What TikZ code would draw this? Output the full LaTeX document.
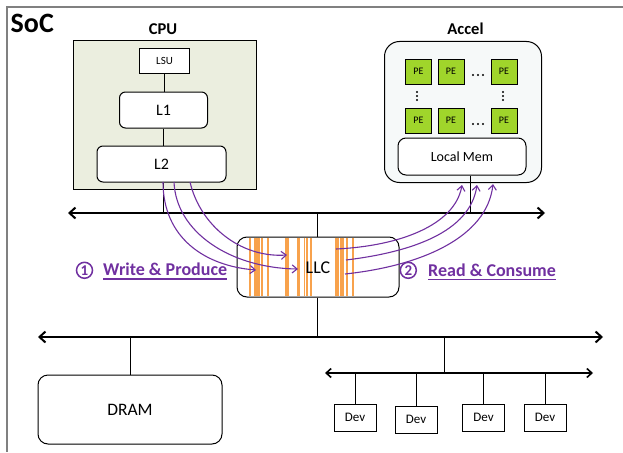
\documentclass[tikz,border=0pt]{standalone}
\usepackage{fontspec}
\setmainfont{Carlito}
\usetikzlibrary{arrows.meta,calc}
\definecolor{cpufill}{HTML}{EBEEDF}
\definecolor{accfill}{HTML}{F6F9F9}
\definecolor{pegreen}{HTML}{A0D52B}
\definecolor{purp}{HTML}{7030A0}
\definecolor{llcorange}{HTML}{F8A24C}
\definecolor{framegray}{HTML}{808080}
\newcommand\fsz[1]{\fontsize{#1}{#1}\selectfont}
\begin{document}
\begin{tikzpicture}[x=1pt,y=-1pt,
  box/.style={draw, line width=1pt, fill=white, inner sep=0pt},
  rbox/.style={box, rounded corners=6pt},
  bus/.style={line width=2pt, {Straight Barb[length=6pt,width=11pt]}-{Straight Barb[length=6pt,width=11pt]}},
  subbus/.style={line width=1.6pt, {Straight Barb[length=5pt,width=9pt]}-{Straight Barb[length=5pt,width=9pt]}},
  wire/.style={line width=1pt},
  flow/.style={draw=purp, line width=1.1pt, -{Straight Barb[length=5pt,width=8pt]}},
  stripe/.style={draw=llcorange, line width=1.6pt},
  pe/.style={draw, line width=0.9pt, fill=pegreen, minimum width=26pt, minimum height=25pt, inner sep=0pt, font=\fsz{10}},
  dev/.style={box, minimum width=42pt, minimum height=27pt, font=\fsz{13}},
  title/.style={font=\bfseries\fsz{16.5}, anchor=base, inner sep=0pt},
  stepnum/.style={circle, draw=purp, line width=1.5pt, text=purp, inner sep=0pt, minimum size=16pt, font=\bfseries\fsz{15}},
  steptext/.style={anchor=base west, inner sep=0pt, text=purp, font=\bfseries\fsz{18}},
  dotmark/.style={fill=black, draw=none}
]
\useasboundingbox (0,0) rectangle (623,452);

% SoC frame
\draw[draw=framegray, line width=1.6pt] (623,7) -- (7,7) -- (7,452);
\node[font=\bfseries\fsz{28}, anchor=base west, inner sep=0pt] (soc) at (10.5,33) {SoC};

% CPU
\node[box, fill=cpufill, minimum width=183pt, minimum height=148pt] (cpu) at (164.5,115) {};
\node[title] (cpulbl) at (163,35) {CPU};
\node[box, minimum width=50pt, minimum height=24pt, font=\fsz{11}] (lsu) at (164.5,61) {LSU};
\node[rbox, minimum width=88pt, minimum height=36pt, font=\fsz{16}] (l1) at (163.5,110) {L1};
\node[rbox, minimum width=129pt, minimum height=36pt, font=\fsz{16}] (l2) at (161.5,164) {L2};
\draw[wire] (lsu.south) -- (lsu.south |- l1.north);
\draw[wire] (l1.south) -- (l1.south |- l2.north);

% Accelerator
\node[box, fill=accfill, rounded corners=15pt, minimum width=157pt, minimum height=141pt] (accel) at (463,112) {};
\node[title] (acclbl) at (465.5,35) {Accel};
\foreach \r/\y in {1/71.5,2/120.5}{
  \node[pe] (pe\r a) at (418.5,\y) {PE};
  \node[pe] (pe\r b) at (451,\y) {PE};
  \node[pe] (pe\r c) at (504,\y) {PE};
}
\foreach \y in {75,124}
  \foreach \x in {473,478,483}
    \fill[dotmark] (\x,\y) circle (1.1pt);
\foreach \x in {417,503}
  \foreach \y in {92,96,100}
    \fill[dotmark] (\x,\y) circle (1.1pt);
\node[rbox, rounded corners=8pt, minimum width=128pt, minimum height=37pt, font=\fsz{14}] (lmem) at (462,156.5) {Local Mem};

% upper bus
\coordinate (busTL) at (68,213);
\coordinate (busTR) at (545,213);
\coordinate (tapC) at (163,213);
\coordinate (tapA) at (470,213);
\coordinate (tapL) at (317,213);
\draw[bus] (busTL) -- (busTR);
\draw[wire] (l2.south -| tapC) -- (tapC);
\draw[wire] (lmem.south -| tapA) -- (tapA);

% LLC
\node[box, rounded corners=10pt, minimum width=162pt, minimum height=60pt] (llc) at (318,267) {};
\draw[wire] (llc.north -| tapL) -- (tapL);
\foreach \sx in {250,255,256.7,258.7,262,267.7,286,287.7,297.7,299.3,304.3,306.7,311,335.5,337,338.5,341,343,347,353}
  \draw[stripe] (\sx,237.6) -- (\sx,296.4);
\node[font=\fsz{18}, inner sep=0pt] (llctext) at (318,268) {LLC};

% lower bus
\coordinate (busBL) at (38,337);
\coordinate (busBR) at (603,337);
\coordinate (tapL2) at (317,337);
\coordinate (tapD) at (130,337);
\coordinate (tapS) at (444,337);
\draw[bus] (busBL) -- (busBR);
\draw[wire] (llc.south -| tapL2) -- (tapL2);

\node[box, rounded corners=10pt, minimum width=184pt, minimum height=69pt, font=\fsz{17.5}] (dram) at (130,409.5) {DRAM};
\draw[wire] (tapD) -- (dram.north -| tapD);

% device bus
\coordinate (subL) at (325,373);
\coordinate (subR) at (593,373);
\coordinate (subT) at (444,373);
\draw[wire] (tapS) -- (subT);
\draw[subbus] (subL) -- (subR);
\node[dev] (dev1) at (355,417.5) {Dev};
\node[dev] (dev2) at (416,419.5) {Dev};
\node[dev] (dev3) at (483.5,417.5) {Dev};
\node[dev] (dev4) at (545,417.5) {Dev};
\foreach \d in {dev1,dev2,dev3,dev4}
  \draw[wire] (\d.north) -- (\d.north |- subT);

% write & produce flows
\coordinate (w1s) at (163,182);
\coordinate (w2s) at (174,182);
\coordinate (w3s) at (190,182);
\coordinate (w1e) at (256,270);
\coordinate (w2e) at (298,269);
\coordinate (w3e) at (287,255);
\draw[flow] (w1s) .. controls (163,238) and (205,266) .. (w1e);
\draw[flow] (w2s) .. controls (176,232) and (230,268) .. (w2e);
\draw[flow] (w3s) .. controls (200,225) and (240,258) .. (w3e);

% read & consume flows
\coordinate (r1s) at (336,249);
\coordinate (r2s) at (346,260);
\coordinate (r3s) at (345,274);
\coordinate (r1e) at (462,185);
\coordinate (r2e) at (477,185);
\coordinate (r3e) at (493,184);
\draw[flow] (r1s) .. controls (400,246) and (455,225) .. (r1e);
\draw[flow] (r2s) .. controls (412,252) and (470,232) .. (r2e);
\draw[flow] (r3s) .. controls (420,266) and (487,238) .. (r3e);

% step labels
\node[stepnum] (n1) at (84.5,270.3) {1};
\node[steptext] (t1) at (103,275.7) {Write \& Produce};
\draw[purp, line width=1.2pt] ([yshift=-3.3pt]t1.base west) -- ([yshift=-3.3pt]t1.base east);
\node[stepnum] (n2) at (408.3,270.3) {2};
\node[steptext] (t2) at (428,276) {Read \& Consume};
\draw[purp, line width=1.2pt] ([yshift=-3.3pt]t2.base west) -- ([yshift=-3.3pt]t2.base east);
\end{tikzpicture}
\end{document}
